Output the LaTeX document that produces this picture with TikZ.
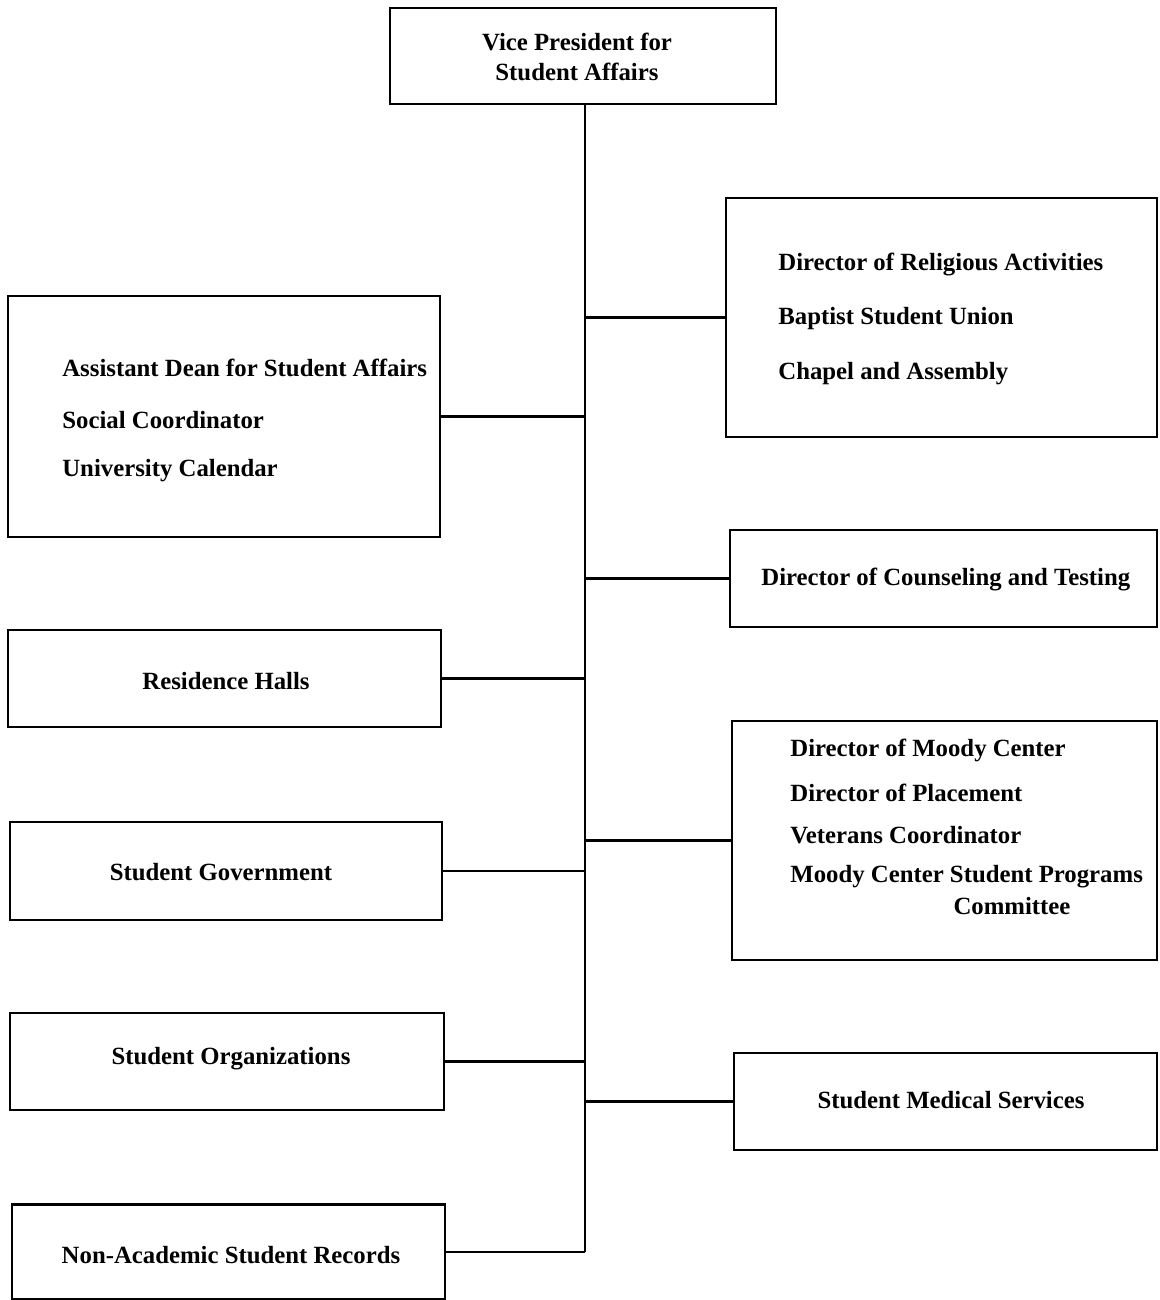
\documentclass[tikz,border=0pt]{standalone}
\usepackage{fontspec}
\setmainfont{Liberation Serif}
\begin{document}
\begin{tikzpicture}[x=0.02cm,y=-0.02cm,
    orgbox/.style={draw,line width=1.3pt,inner sep=0pt},
    boxtext/.style={anchor=west,inner sep=0pt,font=\fontsize{14.1}{17}\selectfont\bfseries},
    link/.style={line width=1.3pt}]
\useasboundingbox (0,0) rectangle (1159,1300);
{
% Drawing top box
\node (vp) [orgbox,minimum width=7.72cm,minimum height=1.92cm] at (583,56) {};
\node (vptext) [boxtext,anchor=center,align=center,font=\fontsize{14.1}{17}\selectfont\bfseries] at (577,57) {Vice President for\\Student Affairs};

% Drawing right column
\node (rel) [orgbox,minimum width=8.62cm,minimum height=4.78cm] at (941.5,317.5) {};
\node (rela) [boxtext] at (778,265) {Director of Religious Activities};
\node (relb) [boxtext] at (778,319) {Baptist Student Union};
\node (relc) [boxtext] at (778,374) {Chapel and Assembly};

\node (coun) [orgbox,minimum width=8.54cm,minimum height=1.94cm] at (943.5,578.5) {};
\node (councoun) [boxtext] at (761,580) {Director of Counseling and Testing};

\node (moody) [orgbox,minimum width=8.5cm,minimum height=4.78cm] at (944.5,840.5) {};
\node (moodya) [boxtext] at (790,750) {Director of Moody Center};
\node (moodyb) [boxtext] at (790,793) {Director of Placement};
\node (moodyc) [boxtext] at (790,835) {Veterans Coordinator};
\node (moodyd) [boxtext] at (790,877) {Moody Center Student Programs};
\node (moodye) [boxtext,anchor=center] at (1012,906) {Committee};

\node (med) [orgbox,minimum width=8.46cm,minimum height=1.94cm] at (945.5,1101.5) {};
\node (medtext) [boxtext,anchor=center] at (951,1100) {Student Medical Services};

% Drawing left column
\node (asst) [orgbox,minimum width=8.64cm,minimum height=4.82cm] at (224,416.5) {};
\node (assta) [boxtext] at (62,368) {Assistant Dean for Student Affairs};
\node (asstb) [boxtext] at (62,420) {Social Coordinator};
\node (asstc) [boxtext] at (62,471) {University Calendar};

\node (res) [orgbox,minimum width=8.66cm,minimum height=1.94cm] at (224.5,678.5) {};
\node (restext) [boxtext,anchor=center] at (226,681) {Residence Halls};

\node (gov) [orgbox,minimum width=8.64cm,minimum height=1.96cm] at (226,871) {};
\node (govtext) [boxtext,anchor=center] at (221,872) {Student Government};

\node (org) [orgbox,minimum width=8.68cm,minimum height=1.94cm] at (227,1061.5) {};
\node (orgtext) [boxtext,anchor=center] at (231,1059) {Student Organizations};

\node (rec) [orgbox,minimum width=8.66cm,minimum height=1.9cm] at (228.5,1252) {};
\node (rectext) [boxtext,anchor=center] at (231,1255) {Non-Academic Student Records};

% Drawing connectors
\coordinate (trunk) at (585,104);
\draw [link] (trunk) -- (trunk |- rec.east);
\foreach \b in {rel,coun,moody,med}
  \draw [link] (\b.west) -- (\b.west -| trunk);
\foreach \b in {asst,res,gov,org,rec}
  \draw [link] (\b.east) -- (\b.east -| trunk);
}
\end{tikzpicture}
\end{document}
